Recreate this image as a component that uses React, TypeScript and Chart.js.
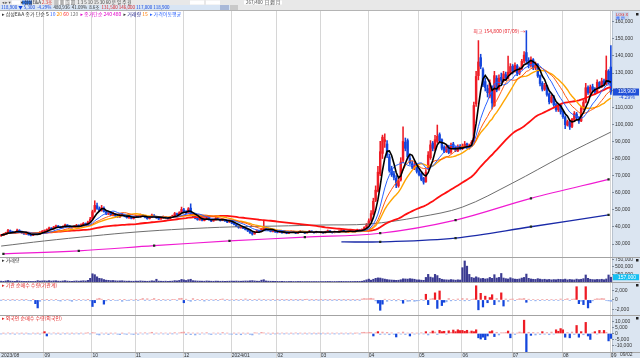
import React, { useEffect, useRef } from "react";
import { Chart, registerables } from "chart.js";
Chart.register(...registerables);

// ---- categories (trading days per month) ----
const monthLabels = ["2023/08", "09", "10", "11", "12", "2024/01", "02", "03", "04", "05", "06", "07", "08", "09"];
const monthDays = [19, 21, 19, 21, 21, 20, 19, 21, 22, 19, 22, 22, 21, 1];

// ---- axis tick labels ----
const priceTicks = [30, 40, 50, 60, 70, 80, 90, 100, 110, 120, 130, 140, 150, 160];
const volumeTicks = [250, 500, 750];
const instTicks = [-2000, 0, 2000];
const foreignTicks = [-10000, -5000, 0, 5000, 10000];

// ---- prices in thousands of KRW ----
const opens = [
  34.8, 35.1, 35.9, 36.6, 37.8, 37.3, 36.3, 36.9, 38.0, 37.4, 36.5, 35.8, 36.1, 35.5, 35.1, 35.7, 36.2, 35.9, 37.0,
  37.5, 37.8, 38.7, 39.3, 38.9, 39.8, 40.5, 40.2, 39.6, 40.2, 41.1, 40.6, 40.1, 39.7, 40.3, 41.0, 40.6, 41.2, 42.0, 41.7, 42.9,
  44.8, 49.2, 52.4, 50.6, 49.7, 51.0, 48.8, 47.5, 48.2, 46.8, 47.6, 46.3, 45.8, 46.7, 47.1, 46.0, 45.3, 46.0, 44.9,
  45.8, 46.3, 45.9, 46.9, 46.2, 45.4, 44.9, 45.7, 46.8, 46.0, 45.2, 44.7, 45.3, 45.9, 45.3, 45.0, 45.8, 46.6, 47.7, 47.2, 48.4,
  50.0, 49.0, 48.3, 51.0, 47.6, 46.4, 45.1, 44.1, 44.8, 43.7, 44.4, 45.2, 44.2, 43.5, 44.1, 44.9, 44.5, 43.8, 44.2, 43.4, 42.9,
  43.5, 42.1, 41.4, 40.4, 39.5, 40.1, 39.2, 38.5, 37.7, 36.6, 35.9, 36.8, 37.9, 37.3, 38.5, 39.7, 39.0, 38.2, 37.3, 37.8,
  37.0, 36.9, 37.2, 36.6, 36.9, 36.3, 36.8, 37.3, 36.8, 36.4, 36.9, 37.4, 36.9, 36.5, 37.0, 37.5, 37.0, 36.7, 37.1,
  36.7, 37.0, 36.6, 37.3, 37.7, 37.0, 36.7, 37.2, 37.0, 37.4, 38.0, 37.3, 36.9, 37.4, 37.8, 37.3, 37.8, 38.2, 37.9, 38.6, 39.7,
  41.3, 43.8, 47.5, 55.5, 61.0, 71.0, 83.0, 90.0, 88.5, 81.0, 74.0, 71.0, 68.5, 64.0, 67.5, 79.0, 89.5, 90.5, 80.0, 77.0, 74.5, 75.5,
  72.8, 71.0, 68.5, 66.5, 74.5, 80.5, 89.0, 85.5, 90.0, 94.0, 91.0, 86.5, 84.0, 87.0, 83.8, 88.5, 86.5, 84.5, 87.2,
  85.8, 87.0, 88.6, 86.0, 87.5, 89.8, 112.0, 128.5, 139.0, 132.0, 125.0, 121.0, 116.5, 121.0, 111.0, 127.0, 121.0, 127.5, 125.5, 129.0, 127.0, 130.0,
  134.0, 131.0, 134.2, 130.0, 132.8, 137.0, 142.0, 137.5, 134.5, 137.8, 133.0, 135.0, 128.5, 124.0, 120.5, 122.5, 117.8, 113.0, 116.0, 111.5, 108.5, 111.0,
  107.5, 104.0, 99.5, 101.5, 98.8, 102.5, 106.0, 104.0, 102.0, 109.5, 113.0, 121.5, 118.5, 122.0, 120.5, 119.0, 124.5, 122.0, 125.5, 123.5, 131.0,
  133.5,
];
const highs = [
  35.6, 36.2, 36.9, 38.6, 38.2, 37.5, 37.2, 38.8, 38.4, 37.6, 36.8, 36.7, 36.3, 35.8, 36.0, 36.7, 36.5, 37.3, 37.9,
  38.3, 38.9, 39.9, 39.6, 40.3, 41.0, 40.8, 40.4, 40.7, 41.7, 41.3, 40.8, 40.3, 40.8, 41.5, 41.2, 41.8, 42.6, 42.3, 43.4, 45.6,
  49.8, 55.3, 53.9, 51.7, 52.6, 51.8, 49.5, 49.2, 48.8, 48.5, 48.0, 46.9, 47.4, 48.1, 47.5, 46.4, 46.7, 46.3, 46.2,
  46.9, 46.7, 47.6, 47.3, 46.5, 45.7, 45.9, 47.5, 47.2, 46.3, 45.5, 45.6, 46.4, 46.2, 45.6, 46.0, 46.9, 48.5, 48.1, 48.9, 51.6,
  50.8, 49.6, 51.3, 53.5, 47.9, 46.8, 45.4, 45.3, 45.0, 44.9, 45.8, 45.4, 44.4, 44.6, 45.5, 45.2, 44.7, 44.7, 44.4, 43.6, 44.0,
  43.8, 42.5, 41.7, 40.6, 40.6, 40.4, 39.5, 38.7, 37.9, 36.9, 37.3, 38.3, 38.1, 39.2, 43.5, 40.1, 39.3, 38.5, 38.3, 38.1,
  37.3, 37.6, 37.4, 37.3, 37.1, 36.9, 37.7, 37.5, 36.9, 37.0, 37.8, 37.6, 37.1, 37.1, 37.9, 37.7, 37.1, 37.5, 37.3,
  37.3, 37.2, 37.5, 38.2, 37.9, 37.3, 37.6, 37.4, 37.8, 38.5, 38.2, 37.5, 37.6, 38.3, 38.0, 38.0, 38.7, 38.4, 38.9, 40.1, 42.0,
  44.8, 49.5, 56.8, 64.0, 75.5, 90.0, 93.7, 94.5, 90.5, 82.5, 75.5, 72.5, 70.0, 68.5, 80.5, 98.5, 92.0, 91.5, 81.5, 78.5, 78.0, 76.5,
  74.0, 71.8, 69.0, 73.5, 84.0, 90.5, 90.0, 93.5, 99.6, 95.0, 91.5, 87.5, 88.0, 87.8, 89.0, 89.5, 87.0, 88.0, 88.2,
  88.5, 90.0, 89.0, 88.5, 90.5, 113.0, 131.0, 149.0, 141.0, 133.0, 127.0, 123.0, 126.0, 122.5, 131.0, 128.5, 129.0, 130.0, 131.0, 130.5, 140.0, 135.5,
  135.0, 136.0, 135.0, 133.5, 138.0, 142.5, 154.8, 139.0, 139.5, 138.5, 136.5, 135.5, 129.0, 125.0, 124.0, 123.0, 118.5, 117.0, 117.0, 112.5, 112.0, 111.5,
  108.0, 105.0, 102.5, 102.0, 103.5, 107.5, 107.0, 104.5, 110.5, 114.0, 124.0, 122.5, 123.0, 123.5, 121.5, 126.0, 125.0, 127.0, 126.5, 140.0, 132.0,
  146.0,
];
const lows = [
  34.5, 34.9, 35.6, 36.4, 36.9, 36.1, 36.1, 36.7, 37.2, 36.3, 35.6, 35.6, 35.2, 34.7, 34.9, 35.5, 35.6, 35.7, 36.8,
  37.2, 37.6, 38.5, 38.5, 38.7, 39.6, 39.8, 39.2, 39.4, 40.0, 40.4, 39.8, 39.3, 39.5, 40.1, 40.2, 40.4, 41.0, 41.3, 41.5, 42.6,
  44.5, 48.6, 50.2, 48.9, 49.2, 48.6, 47.1, 47.2, 46.5, 46.5, 46.1, 45.5, 45.5, 46.4, 45.9, 45.1, 45.0, 44.7, 44.6,
  45.5, 45.5, 45.7, 46.0, 45.2, 44.5, 44.6, 45.5, 45.9, 45.0, 44.3, 44.4, 45.1, 45.2, 44.6, 44.8, 45.6, 46.4, 46.8, 47.0, 48.1,
  48.6, 47.8, 48.0, 47.1, 45.9, 44.7, 43.9, 43.9, 43.5, 43.5, 44.2, 43.9, 43.1, 43.3, 43.9, 44.3, 43.4, 43.6, 43.2, 42.5, 42.6,
  41.9, 41.2, 40.1, 39.2, 39.3, 38.9, 38.2, 37.3, 36.2, 35.2, 35.7, 36.6, 37.0, 37.1, 38.3, 38.6, 37.9, 37.1, 37.1, 36.8,
  36.5, 36.7, 36.3, 36.4, 36.0, 36.1, 36.6, 36.7, 36.1, 36.2, 36.7, 36.8, 36.2, 36.3, 36.8, 36.9, 36.4, 36.5, 36.6,
  36.5, 36.3, 36.4, 37.1, 36.9, 36.4, 36.5, 36.7, 36.8, 37.2, 37.2, 36.6, 36.7, 37.2, 37.0, 37.1, 37.6, 37.6, 37.7, 38.4, 39.5,
  41.0, 43.2, 47.0, 54.8, 60.5, 70.0, 80.0, 86.5, 80.5, 72.0, 69.5, 67.5, 63.0, 63.2, 66.8, 77.5, 84.5, 80.0, 76.5, 74.0, 73.5, 71.5,
  69.8, 67.0, 65.0, 66.0, 73.5, 79.5, 84.5, 84.5, 89.0, 89.5, 85.0, 83.5, 83.5, 82.8, 83.0, 85.5, 84.0, 84.0, 85.0,
  85.2, 86.5, 85.8, 85.5, 87.0, 89.5, 110.5, 126.0, 132.5, 122.0, 119.5, 116.0, 115.5, 109.0, 110.5, 119.0, 120.0, 124.5, 124.8, 126.0, 126.5, 129.0,
  129.5, 130.5, 128.5, 129.0, 132.0, 136.0, 135.5, 133.0, 133.5, 132.0, 132.0, 127.5, 122.5, 119.5, 119.8, 116.5, 112.0, 112.5, 110.5, 107.5, 107.5, 106.0,
  103.5, 97.5, 99.0, 97.0, 98.0, 101.5, 103.0, 100.5, 101.5, 108.5, 112.5, 117.5, 117.5, 119.5, 117.8, 118.5, 121.0, 121.5, 122.5, 123.0, 123.5,
  117.5,
];
const closes = [
  35.2, 35.8, 36.5, 37.9, 37.2, 36.4, 36.8, 38.1, 37.5, 36.6, 35.9, 36.2, 35.4, 35.0, 35.6, 36.3, 35.8, 36.9, 37.4,
  37.9, 38.6, 39.4, 38.8, 39.9, 40.6, 40.1, 39.5, 40.3, 41.2, 40.7, 40.0, 39.6, 40.4, 41.0, 40.5, 41.3, 42.1, 41.6, 42.8, 44.5,
  48.9, 52.6, 50.8, 49.5, 51.3, 49.0, 47.6, 48.4, 46.9, 47.8, 46.5, 45.9, 46.8, 47.3, 46.2, 45.4, 46.1, 45.0, 45.7,
  46.4, 45.8, 47.0, 46.3, 45.5, 44.8, 45.6, 46.9, 46.1, 45.3, 44.6, 45.2, 46.0, 45.4, 44.9, 45.7, 46.5, 47.8, 47.1, 48.3, 50.2,
  49.1, 48.2, 50.6, 47.5, 46.3, 45.0, 44.2, 44.9, 43.8, 44.5, 45.3, 44.1, 43.4, 44.2, 45.0, 44.6, 43.7, 44.3, 43.5, 42.8, 43.6,
  42.2, 41.5, 40.3, 39.6, 40.2, 39.1, 38.4, 37.6, 36.5, 35.8, 36.9, 37.8, 37.2, 38.6, 39.8, 38.9, 38.1, 37.4, 37.9, 37.1,
  36.8, 37.3, 36.5, 37.0, 36.2, 36.7, 37.4, 36.9, 36.3, 36.8, 37.5, 37.0, 36.4, 36.9, 37.6, 37.1, 36.6, 37.2, 36.8,
  37.0, 36.5, 37.2, 37.8, 37.1, 36.6, 37.3, 36.9, 37.5, 38.1, 37.4, 36.8, 37.3, 37.9, 37.2, 37.7, 38.3, 37.8, 38.5, 39.6, 41.2,
  43.5, 47.8, 55.0, 61.5, 72.0, 84.0, 92.5, 91.0, 82.0, 73.0, 70.5, 69.0, 64.5, 67.0, 78.0, 90.0, 86.0, 81.0, 77.5, 75.0, 76.0, 72.5,
  70.5, 67.8, 66.2, 72.0, 82.0, 88.0, 86.0, 91.0, 93.0, 90.5, 86.0, 84.2, 86.8, 83.5, 87.9, 86.1, 84.7, 86.9, 85.6,
  87.2, 88.4, 86.3, 87.8, 89.5, 111.0, 128.0, 136.5, 134.0, 123.0, 121.5, 118.5, 124.0, 112.5, 128.5, 120.0, 127.0, 125.8, 129.5, 127.2, 130.5, 133.8,
  131.2, 134.5, 129.8, 132.6, 136.9, 140.5, 137.2, 134.8, 137.6, 133.1, 135.4, 128.3, 123.9, 120.6, 122.8, 117.5, 113.2, 115.9, 111.4, 108.6, 110.8, 107.3,
  104.5, 99.8, 101.6, 98.5, 102.9, 106.3, 103.8, 101.9, 109.5, 112.8, 121.4, 118.6, 121.8, 120.5, 118.9, 124.6, 122.1, 125.3, 123.4, 131.5, 124.2,
  118.9,
];

// ---- volume (thousands of shares) ----
const volumes = [
  28, 22, 35, 48, 30, 25, 22, 40, 30, 24, 20, 22, 26, 20, 18, 24, 45, 30, 36,
  40, 32, 45, 30, 38, 42, 30, 26, 34, 44, 30, 25, 22, 30, 36, 28, 34, 42, 35, 55, 120,
  270, 240, 170, 120, 110, 80, 60, 55, 45, 50, 40, 35, 38, 42, 32, 28, 30, 26, 25,
  30, 28, 36, 30, 26, 24, 28, 40, 32, 90, 30, 26, 24, 28, 22, 26, 30, 45, 38, 52, 85,
  70, 50, 75, 90, 45, 38, 32, 30, 28, 26, 35, 30, 26, 24, 30, 28, 24, 26, 22, 25, 28,
  30, 28, 32, 28, 26, 30, 34, 32, 40, 45, 35, 28, 26, 60, 75, 35, 28, 25, 24, 22,
  20, 18, 22, 18, 16, 18, 20, 17, 16, 18, 20, 17, 15, 16, 18, 16, 15, 17, 16,
  16, 15, 18, 20, 17, 15, 17, 16, 18, 22, 18, 16, 17, 20, 17, 18, 22, 20, 26, 45, 70,
  95, 60, 90, 120, 135, 130, 110, 95, 80, 70, 65, 60, 55, 58, 75, 105, 100, 95, 110, 100, 90, 70,
  70, 60, 55, 150, 250, 160, 140, 250, 210, 120, 90, 75, 70, 65, 80, 70, 60, 72, 65,
  470, 690, 520, 250, 150, 130, 170, 140, 110, 120, 100, 110, 150, 120, 240, 130, 150, 280, 130, 110, 100, 140,
  110, 95, 90, 100, 130, 150, 260, 120, 100, 90, 85, 110, 95, 80, 90, 75, 85, 70, 80, 75, 90, 85,
  80, 95, 70, 85, 75, 70, 95, 80, 90, 110, 230, 120, 90, 80, 75, 85, 80, 90, 75, 100, 230,
  157,
];

// ---- institutional net buying ----
const instNet = [
  -40, 60, -80, 120, -60, 30, -50, 90, -120, 40, -30, 60, -90, -200, 50, -800, -1700, -300, 80,
  -60, 40, -150, 90, -100, 60, -80, -250, 120, -60, 80, -40, -300, 60, -90, 50, -120, 100, -60, 40, -200,
  -1400, -600, 200, 350, 150, -900, -200, 60, -150, 80, -100, -60, 120, -300, 50, -80, -40, 100, -60,
  60, -50, 80, 300, -40, 250, -60, 100, 300, -80, 40, -120, 60, -40, 90, -50, 70, 120, -60, 300, 350,
  -600, 150, -80, -300, 280, -150, 60, -100, 40, -250, 80, -60, 120, -50, 40, -90, 60, 200, -40, 70, -60,
  90, -50, 40, -60, 70, -40, 220, -30, 50, -80, 60, -40, 180, -50, 60, -40, 100, -30, 50, -60,
  40, -30, 50, -20, 30, -40, 20, -30, 40, -20, 30, -20, 40, 150, -30, 20, -40, 30, -20,
  30, -20, 40, -30, 20, -40, 30, -20, 40, -30, 20, -30, 40, -20, 30, -20, 40, -30, 200, 300, 250,
  300, 350, 250, -200, -700, -2200, -900, 150, -300, 100, -150, 80, -200, 60, -120, -700, 100, -300, -250, 120, -300, -200,
  -100, 80, -60, 1200, -1000, 200, 300, 1500, -1800, 1900, -1200, -500, -400, 300, -200, 100, -150, 200, -100,
  300, -200, 250, -150, 100, 200, 3000, -2100, 1400, -1500, 800, -600, 500, 1100, -1000, 300, -400, 1500, -1300, 200, -300, 150,
  200, -150, 100, 250, 200, 300, -500, 150, -100, 120, -200, 100, -150, 80, -100, 60, -80, 120, -60, 100, -80, 200,
  -100, 80, 250, -120, 150, 200, 2800, -800, -300, -1000, 2800, -1700, -600, -200, 150, 250, 200, 300, 250, -100, -200,
  -300,
];

// ---- foreign net buying ----
const foreignNet = [
  -300, 200, -400, 500, -200, 300, -600, 400, -300, 200, -500, 300, -200, -400, 300, -300, 200, -500, 400,
  1500, -2000, 300, -400, 500, -300, 200, -600, 400, -200, 300, -500, 200, -300, 400, -200, 300, -400, 200, 600, -300,
  800, 500, -700, -1200, 400, -500, 300, -800, 200, -400, 300, -600, -900, 200, -300, -700, 400, -500, -800,
  300, -600, 500, -400, 600, -300, 400, 1000, -500, 300, -400, 500, -300, 400, -600, 300, -200, 700, -400, 500, 1000,
  1200, -800, 600, -900, 400, -1200, 300, -600, 500, -400, 700, -300, -800, 400, -500, 300, -600, 800, -400, 300, -500,
  -600, 300, -800, 400, -1000, 300, -500, 200, -700, -1200, 600, 400, -300, 900, 500, -400, 300, -600, 200, -300,
  200, -300, 400, -200, 300, -400, 200, -300, 500, -200, 300, -400, 200, -300, 400, -200, 300, -200, 200,
  -200, 300, -300, 200, -400, 300, -200, 400, -300, 200, -300, 400, -200, 300, -300, 200, 400, -300, 800, 1000, 600,
  1000, 800, -2000, 600, 1500, -800, 1200, -600, 900, -1000, 500, -700, -2800, 600, -500, 1200, -800, 400, -2000, 600, -500, 300,
  -400, 600, -300, 1500, -1200, 1000, 2000, 1200, -800, 2500, 1500, 1800, -600, 2200, 1000, 2800, 1500, 3000, 2400,
  2500, 1800, 2600, 1200, 2000, 1500, 3000, -3500, -4500, -3000, -5000, -2000, 1500, 2200, -2500, 1000, -1200, 600, 600, 800, 2000, -3500,
  500, -800, 300, 1200, 600, 10800, -14800, 1000, -1500, 800, -1200, 600, -800, 1500, -600, 800, -1000, 1200, -500, 3000, 1800, 4000,
  3000, -3000, 800, -3500, 1200, -800, 6500, -3000, 1500, -1000, 9000, -2000, -4800, 600, 1500, -500, 2500, 800, 2500, 1000, -6000,
  -4000,
];

// ---- long moving averages (index, value in thousands) ----
const ma120Idx = [0, 19, 40, 59, 80, 101, 121, 140, 161, 183, 202, 224, 246, 267];
const ma120Val = [28.8, 31.8, 34.7, 37.0, 38.8, 40.0, 40.5, 41.1, 41.7, 45.8, 51.6, 65.7, 81.5, 95.5];
const ma240Idx = [1, 34, 67, 100, 133, 166, 199, 232, 266];
const ma240Val = [24.2, 26.0, 29.0, 31.8, 34.0, 36.3, 44.0, 56.7, 67.8];
const ma480Idx = [149, 166, 199, 232, 266];
const ma480Val = [31.2, 31.3, 33.5, 40.1, 47.0];
const markerIdx = [1, 34, 67, 100, 133, 166, 199, 232, 266];

const UP = "#ee1c25";
const DOWN = "#1446dc";
const KFONT = "'Noto Sans CJK KR','DejaVu Sans',sans-serif";
const NFONT = "'Liberation Sans Narrow','Liberation Sans','DejaVu Sans',sans-serif";

function sma(src: number[], n: number): number[] {
  return src.map((_, i) => {
    const s = Math.max(0, i - n + 1);
    let t = 0;
    for (let k = s; k <= i; k++) t += src[k];
    return t / (i - s + 1);
  });
}
function sparse(n: number, idx: number[], vals: number[]) {
  const a: (number | null)[] = new Array(n).fill(null);
  idx.forEach((k, j) => (a[k] = vals[j]));
  return a;
}
const fmt = (v: number) => Math.round(v).toLocaleString("en-US");

export default function App() {
  const ref = useRef<HTMLCanvasElement | null>(null);
  useEffect(() => {
    const canvas = ref.current;
    if (!canvas) return;
    document.body.style.margin = "0";
    const N = closes.length;
    const labels: string[] = [];
    monthLabels.forEach((m, k) => {
      for (let d = 0; d < monthDays[k]; d++) labels.push(d === 0 ? m : "");
    });
    const monthStarts: number[] = [];
    labels.forEach((l, i) => l && monthStarts.push(i));
    const cColor = closes.map((c, i) => (c >= opens[i] ? UP : DOWN));
    const markerSet = new Set(markerIdx);

    const line = (data: any[], color: string, width: number, order: number, extra: any = {}) => ({
      type: "line", data, yAxisID: "y", borderColor: color, borderWidth: width, pointRadius: 0,
      tension: 0, order, spanGaps: true, ...extra,
    });
    const sparseLine = {
      tension: 0.35,
      pointStyle: "rect",
      pointBackgroundColor: "#1d2b1d",
      pointBorderWidth: 0,
      pointRadius: (c: any) => (markerSet.has(c.dataIndex) ? 1.6 : 0),
    };

    const yAxis = (weight: number, min: number, max: number, tickVals: number[], cb: (v: number) => string) => ({
      type: "linear", position: "right", stack: "panes", stackWeight: weight, min, max,
      grid: { drawOnChartArea: false, drawTicks: true, tickLength: 2, color: "#7d8a9a" },
      border: { display: false },
      ticks: { autoSkip: false, padding: 1, color: "#333", font: { size: 5, family: NFONT }, callback: cb },
      afterBuildTicks: (s: any) => { s.ticks = tickVals.map((v) => ({ value: v })); },
      afterFit: (s: any) => { s.width = 28; },
    });

    const deco = {
      id: "deco",
      beforeDraw(chart: any) {
        const { ctx, chartArea: ca, width, height } = chart;
        ctx.save();
        ctx.fillStyle = "#fff";
        ctx.fillRect(0, 0, width, height);
        // toolbar
        ctx.fillStyle = "#e8e8e8";
        ctx.fillRect(0, 0, width, 11);
        ctx.fillStyle = "#d8e5f4";
        ctx.fillRect(0, 5, 238, 5);
        ctx.fillStyle = "#fff";
        [[12, 8], [22, 10], [58, 14], [190, 14], [206, 14], [244, 26], [272, 10]].forEach(([x, w]) => ctx.fillRect(x, 0.5, w, 4));
        ctx.fillStyle = "#2f6fd8";
        ctx.fillRect(22, 0.5, 10, 4);
        ctx.fillStyle = "#c9c9c9";
        ctx.fillRect(230, 5, 8, 5);
        ctx.fillStyle = "#a8b8d8";
        ctx.fillRect(220, 5, 9, 5);
        ctx.font = `4.5px ${KFONT}`;
        ctx.textBaseline = "middle";
        const row = (segs: [string, string][], x: number, y: number) => {
          segs.forEach(([t, c]) => { ctx.fillStyle = c; ctx.fillText(t, x, y); x += ctx.measureText(t).width; });
        };
        row([["◂ ▸ ▾  ", "#555"], ["       ", "#fff"], [" ▾ 삼성E&A ", "#333"], ["2.3조", "#d22"], ["  ▤ ▦ ▧ ▨  ", "#555"], ["1 3 5 10 15 30 60 분 일 주 월", "#444"]], 2, 2.6);
        row([["267/400  日 週 月", "#444"]], 246, 2.6);
        row([["118,900 ▼", "#1446dc"], [" 5,300 ", "#1446dc"], [" -4.29%", "#1446dc"], ["  480,936  41.09%  8.6조  ", "#333"],
          ["131,500 ", "#d22"], ["146,000 ", "#d22"], ["117,000 ", "#1446dc"], ["118,900", "#1446dc"]], 1, 7.6);
        ctx.strokeStyle = "#b4b4b4";
        ctx.beginPath(); ctx.moveTo(0, 10.5); ctx.lineTo(width, 10.5); ctx.stroke();
        // right axis & date bar backgrounds
        ctx.fillStyle = "#dbe5f1";
        ctx.fillRect(ca.right, 11, width - ca.right, ca.bottom - 11);
        ctx.fillRect(0, ca.bottom, width, 6);
        // vertical month grid lines
        const step = (ca.right - ca.left) / N;
        ctx.strokeStyle = "#d6d6d6";
        ctx.lineWidth = 1;
        monthStarts.forEach((i) => {
          if (i === 0) return;
          const x = Math.round(ca.left + i * step) + 0.5;
          ctx.beginPath(); ctx.moveTo(x, 11); ctx.lineTo(x, ca.bottom + 6); ctx.stroke();
        });
        ctx.strokeStyle = "#b9c3cf";
        ctx.beginPath(); ctx.moveTo(ca.right + 0.5, 11); ctx.lineTo(ca.right + 0.5, ca.bottom + 6); ctx.stroke();
        ctx.restore();
      },
      afterDraw(chart: any) {
        const { ctx, chartArea: ca, width } = chart;
        const y = chart.scales.y, yv = chart.scales.yVol, yi = chart.scales.yInst, yf = chart.scales.yFor, xs = chart.scales.x;
        ctx.save();
        // pane separators
        ctx.strokeStyle = "#a3a3a3";
        ctx.lineWidth = 1;
        [yv.top, yi.top, yf.top, ca.bottom].forEach((t: number) => {
          const yy = Math.round(t) + 0.5;
          ctx.beginPath(); ctx.moveTo(0, yy); ctx.lineTo(width, yy); ctx.stroke();
        });
        ctx.textBaseline = "middle";
        ctx.textAlign = "left";
        ctx.font = `5px ${KFONT}`;
        // legend line
        let x = 2;
        const legend: [string, string][] = [
          ["▸ 삼성E&A 종가 단순 ", "#333"], ["5 ", "#000"], ["10 ", "#2a62ff"], ["20 ", "#ff8c00"], ["60 ", "#ff2a2a"], ["120  ", "#777"],
          ["▸ 종가단순 240 480  ", "#e000c8"], ["▸ ", "#333"], ["거래량 ", "#20208a"], ["15  ", "#ff7a00"], ["▸ 가격이동평균", "#2a62ff"],
        ];
        legend.forEach(([t, c]) => { ctx.fillStyle = c; ctx.fillText(t, x, 14); x += ctx.measureText(t).width; });
        // pane titles
        ctx.fillStyle = "#333";
        ctx.fillText("▸ 거래량", 2, yv.top + 3.5);
        ctx.fillStyle = "#e02020";
        ctx.fillText("▸ 기관 순매수 수량(기관계)", 2, yi.top + 3.5);
        ctx.fillText("▸ 외국인 순매수 수량(외국인)", 2, yf.top + 3.5);
        // peak annotation
        let pi = 0;
        highs.forEach((h, i) => { if (h > highs[pi]) pi = i; });
        const px = xs.getPixelForValue(pi), py = y.getPixelForValue(highs[pi]);
        ctx.fillStyle = "#e8202a";
        ctx.textAlign = "right";
        ctx.fillText(`최고 ${fmt(highs[pi] * 1000)} (07/09) →`, px - 1, py + 0.5);
        // current price tag
        ctx.textAlign = "left";
        ctx.font = `5px ${NFONT}`;
        const last = closes[N - 1];
        const cy = y.getPixelForValue(last);
        ctx.fillStyle = "#1f4fd8";
        ctx.fillRect(ca.right + 1, cy - 3.5, width - ca.right - 2, 7);
        ctx.fillStyle = "#fff";
        ctx.fillText(fmt(last * 1000), ca.right + 6, cy);
        ctx.fillStyle = "#1f4fd8";
        ctx.fillText("-4.29%", ca.right + 7, cy + 6);
        // current volume tag
        const vy = yv.getPixelForValue(volumes[N - 1]);
        ctx.fillStyle = "#16c0f2";
        ctx.fillRect(ca.right + 1, vy - 3, width - ca.right - 2, 6);
        ctx.fillStyle = "#fff";
        ctx.fillText(fmt(volumes[N - 1] * 1000), ca.right + 6, vy);
        // small markers
        ctx.fillStyle = "#222";
        [y, yv, yi, yf].forEach((s: any) => ctx.fillRect(width - 4, s.top + 2, 2.5, 2.5));
        ctx.fillStyle = "#c9d6ea";
        ctx.fillRect(615, 12, 14, 7);
        ctx.fillStyle = "#e02020";
        ctx.font = `4px ${NFONT}`;
        ctx.fillText("LOG X", 616, 14.5);
        ctx.fillStyle = "#2a62ff";
        ctx.fillText("▦ ▤", 616, 17.5);
        ctx.fillStyle = "#333";
        ctx.font = `5px ${NFONT}`;
        ctx.fillText("09/02", ca.right + 8, ca.bottom + 3);
        ctx.restore();
      },
    };

    const chart = new Chart(canvas, {
      type: "bar",
      data: {
        labels,
        datasets: [
          line(sma(closes, 5), "#000000", 1.6, 1),
          line(sma(closes, 10), "#2a62ff", 1, 2),
          line(sma(closes, 15), "#ff5a10", 1, 3),
          line(sma(closes, 20), "#ffa500", 1.4, 4),
          line(sma(closes, 60), "#ff1010", 1.8, 5),
          line(sparse(N, ma120Idx, ma120Val), "#6e6e6e", 1, 6, { tension: 0.35 }),
          line(sparse(N, ma240Idx, ma240Val), "#f01ad2", 1.2, 7, sparseLine),
          line(sparse(N, ma480Idx, ma480Val), "#1a2aa8", 1.3, 8, sparseLine),
          {
            type: "bar", data: opens.map((o, i) => [o, closes[i]]), yAxisID: "y", backgroundColor: cColor,
            barThickness: 1.8, grouped: false, order: 20, minBarLength: 0.8,
          },
          {
            type: "bar", data: lows.map((l, i) => [l, highs[i]]), yAxisID: "y", backgroundColor: cColor,
            barThickness: 0.9, grouped: false, order: 21,
          },
          { type: "bar", data: volumes, yAxisID: "yVol", backgroundColor: "#3b3b92", barThickness: 1.5, grouped: false, order: 30 },
          {
            type: "bar", data: instNet, yAxisID: "yInst", barThickness: 1.6, grouped: false, order: 31,
            backgroundColor: instNet.map((v) => (v >= 0 ? (v > 400 ? UP : "#f3a2a2") : v < -400 ? DOWN : "#8eaef0")),
          },
          {
            type: "bar", data: foreignNet, yAxisID: "yFor", barThickness: 1.6, grouped: false, order: 32,
            backgroundColor: foreignNet.map((v) => (v >= 0 ? (v > 1400 ? UP : "#f3a2a2") : v < -1400 ? DOWN : "#8eaef0")),
          },
        ] as any,
      },
      options: {
        responsive: false,
        animation: false,
        devicePixelRatio: 1,
        events: [],
        layout: { padding: { top: 11, left: 0, right: 0, bottom: 2 } },
        plugins: { legend: { display: false }, tooltip: { enabled: false } },
        scales: {
          x: {
            type: "category",
            offset: true,
            grid: { display: false, drawTicks: false },
            border: { display: false },
            ticks: {
              autoSkip: false, maxRotation: 0, minRotation: 0, align: "start", padding: 0.5,
              color: "#333", font: { size: 5, family: NFONT },
              callback: (_v: any, i: number) => labels[i] || null,
            },
            afterFit: (s: any) => { s.height = 6; },
          },
          y: yAxis(246, 22.4, 166.3, priceTicks, (v) => fmt(v * 1000)),
          yVol: yAxis(25, 0, 820, volumeTicks, (v) => fmt(v * 1000)),
          yInst: yAxis(33, -3200, 3800, instTicks, (v) => fmt(v)),
          yFor: yAxis(37, -15000, 15000, foreignTicks, (v) => fmt(v)),
        } as any,
      },
      plugins: [deco],
    } as any);
    return () => chart.destroy();
  }, []);
  return (
    <div style={{ position: "fixed", left: 0, top: 0, width: 640, height: 360, background: "#fff" }}>
      <canvas ref={ref} width={640} height={360} style={{ display: "block", width: 640, height: 360 }} />
    </div>
  );
}
